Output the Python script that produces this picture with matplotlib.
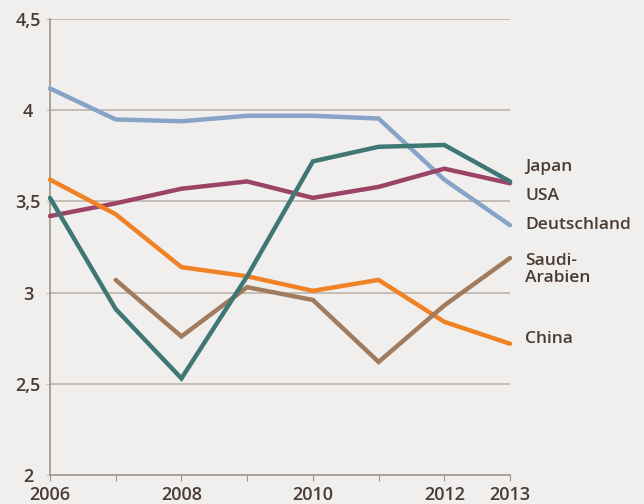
import matplotlib
matplotlib.use("Agg")

import matplotlib.pyplot as plt  # noqa: E402

# ─── Data ─────────────────────────────────────────────────────────────────────
years = [2006, 2007, 2008, 2009, 2010, 2011, 2012, 2013]
deutschland = [4.12, 3.95, 3.94, 3.97, 3.97, 3.955, 3.62, 3.37]
japan = [3.52, 2.91, 2.53, 3.09, 3.72, 3.80, 3.81, 3.61]
usa = [3.42, 3.49, 3.57, 3.61, 3.52, 3.58, 3.68, 3.60]
china = [3.62, 3.43, 3.14, 3.09, 3.01, 3.07, 2.84, 2.72]
saudi_years = [2007, 2008, 2009, 2010, 2011, 2012, 2013]
saudi = [3.07, 2.76, 3.03, 2.96, 2.62, 2.93, 3.19]

y_ticks = [2, 2.5, 3, 3.5, 4, 4.5]
y_labels = ["2", "2,5", "3", "3,5", "4", "4,5"]
x_label_years = [2006, 2008, 2010, 2012, 2013]

# ─── Style ────────────────────────────────────────────────────────────────────
BG = "#f0efed"
GRID = "#c2b9b1"
AXIS = "#9e938a"
TEXT = "#4a3b32"
plt.rcParams["font.family"] = ["Open Sans", "DejaVu Sans"]

fig = plt.figure(figsize=(6.44, 5.04), dpi=100, facecolor=BG)
ax = fig.add_axes([0.0776, 0.0575, 0.7144, 0.9045], facecolor=BG)

# gridlines
for yv in y_ticks[1:]:
    ax.axhline(yv, color=GRID, lw=1.3, zorder=1)

series = [
    (years, deutschland, "#87a3c7", "Deutschland"),
    (years, usa, "#9c4468", "USA"),
    (years, china, "#f08225", "China"),
    (saudi_years, saudi, "#a07b5d", "Saudi-\nArabien"),
    (years, japan, "#3e7773", "Japan"),
]
for xs, ys, col, _ in series:
    ax.plot(xs, ys, color=col, lw=3.2, solid_joinstyle="miter",
            solid_capstyle="round", zorder=3, clip_on=False)

# end labels, placed to the right of the plot
label_pos = {"Japan": 3.688, "USA": 3.528, "Deutschland": 3.37,
             "Saudi-\nArabien": 3.128, "China": 2.745}
for _, _, _, name in series:
    ax.text(2013.23, label_pos[name], name, color=TEXT, fontsize=12.5,
            fontweight="semibold", ha="left", va="center", linespacing=1.05,
            clip_on=False)

ax.set_xlim(2006, 2013)
ax.set_ylim(2, 4.5)

for s in ["top", "right"]:
    ax.spines[s].set_visible(False)
for s in ["left", "bottom"]:
    ax.spines[s].set_color(AXIS)
    ax.spines[s].set_linewidth(1.2)

ax.set_xticks(years)
ax.set_xticklabels([str(y) if y in x_label_years else "" for y in years])
ax.set_yticks(y_ticks)
ax.set_yticklabels(y_labels)
ax.tick_params(axis="x", length=4, color=AXIS, pad=4,
               labelsize=13, labelcolor=TEXT)
ax.tick_params(axis="y", length=3, color=GRID, pad=12.8,
               labelsize=13, labelcolor=TEXT)
for lbl in ax.get_xticklabels() + ax.get_yticklabels():
    lbl.set_fontweight("semibold")
for lbl in ax.get_yticklabels():
    lbl.set_horizontalalignment("center")

fig.savefig("out.png", dpi=100, facecolor=BG)
